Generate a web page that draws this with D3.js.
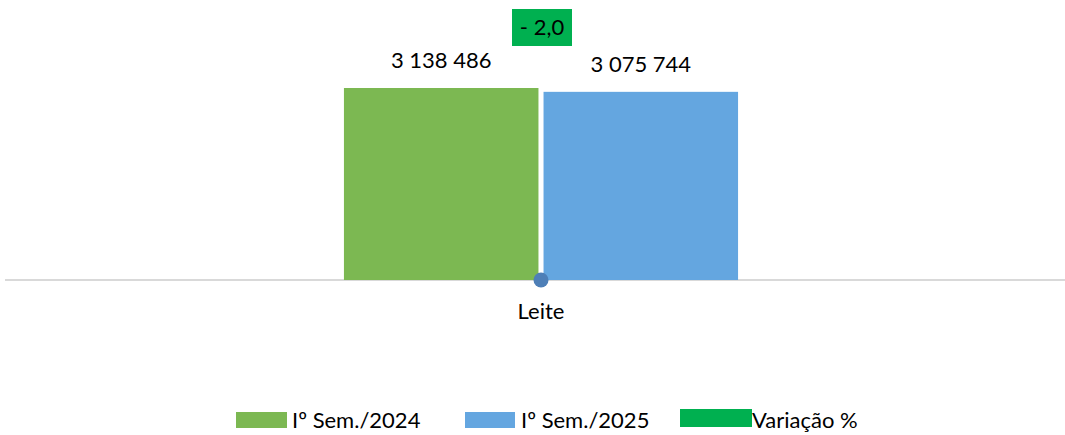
<!DOCTYPE html>
<html><head><meta charset="utf-8">
<script src="https://cdn.jsdelivr.net/npm/d3@7"></script>
<style>body{margin:0;background:#fff}svg{display:block}text{font-family:Lato,"Open Sans",sans-serif;fill:#000}</style>
</head><body>
<svg id="c" width="1065" height="435"></svg>
<script>
const categories = ["Leite"];
const seriesNames = ["Iº Sem./2024", "Iº Sem./2025"];
const values2024 = [3138486];
const values2025 = [3075744];
const variation = [-2.0];
const variationLabel = "Variação %";

const colors = {"Iº Sem./2024":"#7cb852","Iº Sem./2025":"#64a6e0"};
const varColor = "#00b050";
const dotColor = "#4e7fb7";
const fs = 22;

const svg = d3.select("#c");
const baseY = 280;
const y = d3.scaleLinear().domain([0, 4577000]).range([baseY, 0]);
const y2 = d3.scaleLinear().domain([-2, 12]).range([baseY, 0]);
const x0 = d3.scaleBand().domain(categories).range([5, 1077]).paddingInner(0).paddingOuter(0.86);
const x1 = d3.scaleBand().domain(seriesNames).range([0, x0.bandwidth()]).paddingInner(0.0254);

const fmt = v => d3.format(",")(v).replace(/,/g, " ");
const fmtVar = v => (v < 0 ? "- " : "") + d3.format(".1f")(Math.abs(v)).replace(".", ",");

// axis baseline
svg.append("line").attr("x1", 5).attr("x2", 1065).attr("y1", baseY).attr("y2", baseY)
  .attr("stroke", "#d9d9d9").attr("stroke-width", 2);

const rows = categories.map((c, i) => ({cat: c, vals: [
  {s: seriesNames[0], v: values2024[i]}, {s: seriesNames[1], v: values2025[i]}], varv: variation[i]}));

const g = svg.selectAll("g.cat").data(rows).join("g").attr("class", "cat")
  .attr("transform", d => `translate(${x0(d.cat)},0)`);

g.selectAll("rect.bar").data(d => d.vals).join("rect").attr("class", "bar")
  .attr("x", d => x1(d.s)).attr("width", x1.bandwidth())
  .attr("y", d => y(d.v)).attr("height", d => baseY - y(d.v))
  .attr("fill", d => colors[d.s]);

g.selectAll("text.val").data(d => d.vals).join("text").attr("class", "val")
  .attr("x", d => x1(d.s) + x1.bandwidth() / 2).attr("y", d => y(d.v) - 20)
  .attr("text-anchor", "middle").attr("font-size", fs).text(d => fmt(d.v));

// variation dot
g.append("circle").attr("cx", x0.bandwidth() / 2).attr("cy", d => y2(d.varv))
  .attr("r", 7.5).attr("fill", dotColor);

// variation label box
const lbl = g.append("g").attr("transform", `translate(${x0.bandwidth() / 2 + 1},27)`);
lbl.append("rect").attr("x", -30).attr("y", -18).attr("width", 60).attr("height", 37).attr("fill", varColor);
lbl.append("text").attr("text-anchor", "middle").attr("y", 8).attr("font-size", fs).text(d => fmtVar(d.varv));

// category axis label
svg.selectAll("text.cat").data(categories).join("text").attr("class", "cat")
  .attr("x", d => x0(d) + x0.bandwidth() / 2).attr("y", 319)
  .attr("text-anchor", "middle").attr("font-size", fs).text(d => d);

// legend
const legend = [
  {name: seriesNames[0], color: colors[seriesNames[0]], x: 236, w: 51, h: 16, y: 412, tx: 292},
  {name: seriesNames[1], color: colors[seriesNames[1]], x: 465, w: 50, h: 16, y: 412, tx: 521},
  {name: variationLabel, color: varColor, x: 680, w: 72, h: 18, y: 409, tx: 752}
];
const lg = svg.selectAll("g.lg").data(legend).join("g").attr("class", "lg");
lg.append("rect").attr("x", d => d.x).attr("y", d => d.y).attr("width", d => d.w).attr("height", d => d.h).attr("fill", d => d.color);
lg.append("text").attr("x", d => d.tx).attr("y", 428).attr("font-size", fs).text(d => d.name);
</script>
</body></html>
